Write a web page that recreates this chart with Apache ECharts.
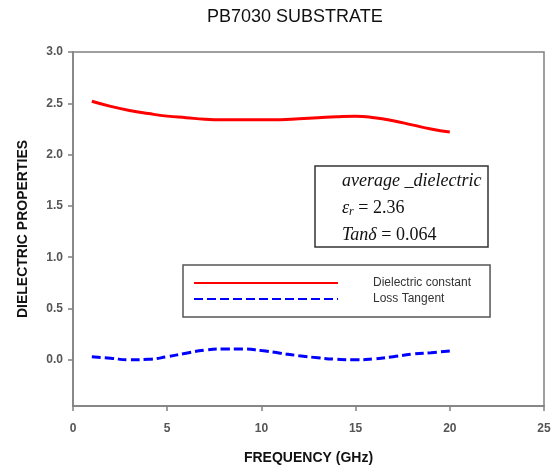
<!DOCTYPE html>
<html>
<head>
<meta charset="utf-8">
<script src="https://cdn.jsdelivr.net/npm/echarts@6/dist/echarts.min.js"></script>
<style>
html,body{margin:0;padding:0;background:#fff;}
#main{width:558px;height:467px;}
</style>
</head>
<body>
<div id="main"></div>
<script>
var frequency = [1,2,3,4,5,6,7,8,9,10,11,12,13,14,15,16,17,18,19,20];
var dielectricConstant = [2.52,2.47,2.43,2.40,2.375,2.36,2.345,2.34,2.34,2.34,2.34,2.35,2.36,2.37,2.375,2.36,2.33,2.29,2.25,2.22];
var lossTangent = [0.03,0.015,0.0,0.005,0.03,0.065,0.095,0.105,0.105,0.09,0.065,0.04,0.02,0.005,0.0,0.01,0.03,0.055,0.07,0.085];
var yTicks = [0,0.5,1.0,1.5,2.0,2.5,3.0];
var seriesNames = ['Dielectric constant','Loss Tangent'];

var chart = echarts.init(document.getElementById('main'), null, {renderer:'canvas'});
var font = 'Liberation Sans, Arial, sans-serif';
var serif = 'Liberation Serif, Times New Roman, serif';
var option = {
  backgroundColor:'#fff',
  animation:false,
  title:{
    text:'PB7030 SUBSTRATE',
    left:207, top:8, padding:0,
    textStyle:{fontFamily:font, fontSize:18, fontWeight:'normal', color:'#111'}
  },
  grid:{left:73, right:14, top:52, bottom:61, show:true, borderColor:'#808080', borderWidth:1.5,
    containLabel:false, outerBoundsMode:'none'},
  xAxis:{
    type:'value', min:0, max:25, interval:5,
    name:'FREQUENCY (GHz)', nameLocation:'middle', nameGap:45,
    nameTextStyle:{fontFamily:font, fontSize:14, fontWeight:'bold', color:'#111'},
    axisLine:{show:true, onZero:false, lineStyle:{color:'#808080', width:1.5}},
    axisTick:{show:true, inside:false, length:5, lineStyle:{color:'#808080', width:1.5}},
    axisLabel:{margin:17, fontFamily:font, fontSize:12, fontWeight:'bold', color:'#555'},
    splitLine:{show:false}
  },
  yAxis:{
    type:'value', min:-0.45, max:3.0,
    name:'DIELECTRIC PROPERTIES', nameLocation:'middle', nameGap:43,
    nameTextStyle:{fontFamily:font, fontSize:14, fontWeight:'bold', color:'#111'},
    axisLine:{show:true, onZero:false, lineStyle:{color:'#808080', width:1.5}},
    axisTick:{show:true, length:5, customValues:yTicks, lineStyle:{color:'#808080', width:1.5}},
    axisLabel:{margin:10, fontFamily:font, fontSize:12, fontWeight:'bold', color:'#555', customValues:yTicks,
      formatter:function(v){return v.toFixed(1);}},
    splitLine:{show:false}
  },
  legend:{
    orient:'vertical', left:183, top:265,
    itemWidth:144, itemHeight:14, itemGap:4,
    padding:[12,19,12,10],
    borderColor:'#555', borderWidth:1.5,
    itemStyle:{opacity:0},
    textStyle:{fontFamily:font, fontSize:12, color:'#333', padding:[0,0,0,30]},
    data:seriesNames.slice()
  },
  series:[
    {name:seriesNames[0], type:'line', smooth:true, symbol:'none', showSymbol:false,
     data:frequency.map(function(f,i){return [f, dielectricConstant[i]];}),
     lineStyle:{color:'#ff0000', width:3}, itemStyle:{color:'#ff0000'}},
    {name:seriesNames[1], type:'line', smooth:true, symbol:'none', showSymbol:false,
     data:frequency.map(function(f,i){return [f, lossTangent[i]];}),
     lineStyle:{color:'#0000ff', width:3, type:[9,4]}, itemStyle:{color:'#0000ff'}}
  ],
  graphic:[
    {type:'rect', shape:{x:315, y:166, width:173, height:81},
     style:{fill:'#fff', stroke:'#333', lineWidth:1.5}, z:10},
    {type:'text', left:342, top:172, z:11,
     style:{text:'average _dielectric', font:'italic 18px '+serif, fill:'#111'}},
    {type:'text', left:342, top:199, z:11,
     style:{text:'{i|ε}{s|r}{n| = 2.36}',
       rich:{i:{fontFamily:serif, fontStyle:'italic', fontSize:18, fill:'#111'},
             s:{fontFamily:serif, fontStyle:'italic', fontSize:12, fill:'#111', verticalAlign:'bottom', padding:[8,0,0,0]},
             n:{fontFamily:serif, fontSize:18, fill:'#111'}}}},
    {type:'text', left:342, top:226, z:11,
     style:{text:'{i|Tanδ}{n| = 0.064}',
       rich:{i:{fontFamily:serif, fontStyle:'italic', fontSize:18, fill:'#111'},
             n:{fontFamily:serif, fontSize:18, fill:'#111'}}}}
  ]
};
chart.setOption(option);
</script>
</body>
</html>
